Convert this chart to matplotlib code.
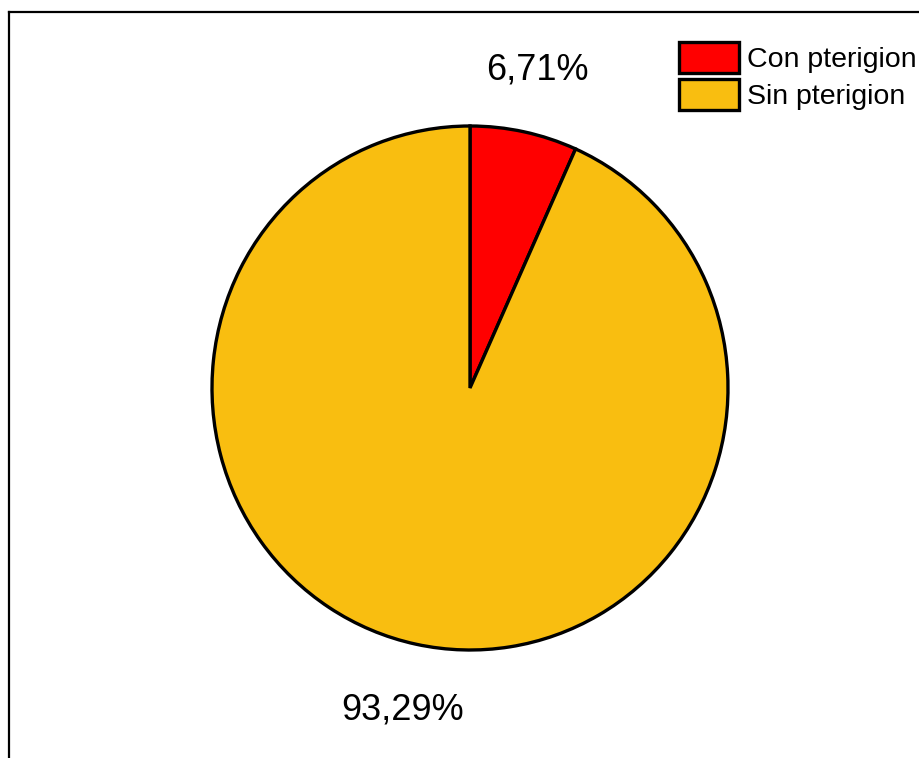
import matplotlib
matplotlib.use("Agg")
import matplotlib.pyplot as plt
import matplotlib.transforms as mtransforms

categories = ["Con pterigion", "Sin pterigion"]
values = [6.71, 93.29]
colors = ["#FF0000", "#F9BE10"]

plt.rcParams['font.family'] = ['Liberation Sans', 'DejaVu Sans']

W, H = 920, 758
fig = plt.figure(figsize=(W / 100, H / 100), dpi=100)
ax = fig.add_axes([0, 0, 1, 1])

# slightly taller than wide, like the reference
k = 262 / 258
cx, cy, r = 470, H - 388, 258
wedges, texts, autotexts = ax.pie(
    values, colors=colors, startangle=90, counterclock=False,
    center=(cx, cy), radius=r, pctdistance=1.24,
    autopct=lambda p: f"{p:.2f}%".replace('.', ','),
    wedgeprops=dict(edgecolor='black', linewidth=2.4),
    textprops=dict(fontsize=26, color='black'),
)
ax.set_aspect('auto')
ax.set_xlim(0, W)
ax.set_ylim(cy - cy / k, cy + 388 / k)
ax.axis('off')

# nudge the lower label a little further out, as in the reference
autotexts[1].set_transform(mtransforms.offset_copy(ax.transData, fig=fig, x=0, y=-4, units='dots'))

# outer frame (in axes coords)
ax.plot([9 / W, 9 / W], [0, 1 - 12 / H], transform=ax.transAxes,
        color='black', lw=1.6, solid_capstyle='projecting')
ax.plot([9 / W, 1], [1 - 12 / H, 1 - 12 / H], transform=ax.transAxes,
        color='black', lw=1.6, solid_capstyle='projecting')

fs = 20.5
leg = fig.legend(wedges, categories, loc='upper left',
                 bbox_to_anchor=(679 / W, 1 - 42 / H), frameon=False,
                 fontsize=fs, handlelength=2.1, handleheight=1.3,
                 labelspacing=0.2, handletextpad=0.3, borderpad=0,
                 borderaxespad=0)

fig.savefig("out.png", dpi=100)
